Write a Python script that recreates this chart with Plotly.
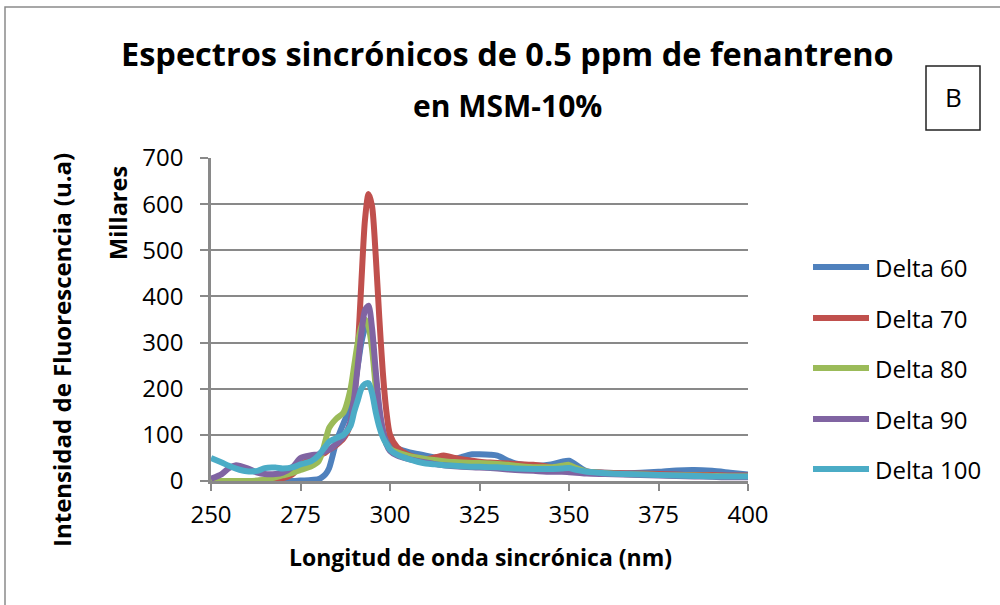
import plotly.graph_objects as go

# ---------------- data ----------------
wavelength = [250, 253, 255, 257, 260, 263, 265, 268, 270, 273, 275, 278, 280, 281, 282, 283, 285, 287,
              289, 290, 291, 292, 293, 294, 295, 296, 297, 298, 299, 300, 302, 305, 310, 313, 315,
              318, 320, 323, 325, 328, 330, 333, 335, 340, 345, 348, 350, 352, 355, 360, 365, 370,
              375, 380, 385, 390, 395, 400]

delta_60 = [0, 0, 0, 0, 0, 0, 0, 0, 0, 0, 1, 2, 4, 8, 15, 28, 85, 125,
            160, 200, 250, 300, 330, 340, 300, 220, 150, 110, 88, 76, 70, 63, 55, 50, 48,
            47, 52, 58, 58, 57, 55, 44, 38, 33, 36, 42, 44, 35, 21, 18, 17, 18,
            20, 23, 24, 22, 18, 14]

delta_70 = [0, 0, 0, 0, 0, 0, 2, 4, 6, 16, 35, 48, 54, 58, 62, 68, 78, 92,
            125, 180, 285, 430, 565, 622, 595, 490, 355, 235, 150, 100, 73, 57, 47, 52, 55,
            50, 47, 44, 42, 40, 39, 38, 37, 35, 30, 27, 25, 22, 20, 18, 17, 16,
            15, 14, 13, 13, 12, 12]

delta_80 = [0, 0, 0, 0, 0, 1, 3, 8, 12, 18, 24, 32, 42, 60, 88, 115, 135, 148,
            200, 250, 300, 335, 350, 335, 285, 205, 140, 100, 80, 70, 62, 55, 48, 45, 43,
            41, 40, 39, 39, 38, 37, 35, 33, 30, 30, 33, 35, 28, 20, 17, 15, 14,
            13, 12, 12, 11, 10, 10]

delta_90 = [5, 15, 28, 34, 28, 18, 15, 15, 18, 32, 50, 56, 58, 62, 65, 68, 80, 95,
            130, 180, 250, 320, 370, 380, 330, 240, 160, 110, 80, 65, 55, 48, 40, 36, 34,
            32, 31, 30, 29, 28, 27, 25, 24, 22, 20, 20, 19, 18, 16, 15, 14, 13,
            12, 11, 10, 9, 8, 8]

delta_100 = [50, 40, 33, 27, 21, 22, 28, 29, 27, 30, 36, 43, 55, 65, 75, 85, 93, 100,
             120, 150, 175, 200, 210, 212, 190, 150, 118, 95, 80, 68, 57, 48, 38, 36, 34,
             33, 32, 31, 31, 30, 30, 28, 27, 26, 26, 27, 28, 24, 20, 17, 15, 14,
             13, 12, 11, 10, 10, 10]

series_names = ["Delta 60", "Delta 70", "Delta 80", "Delta 90", "Delta 100"]
series_values = [delta_60, delta_70, delta_80, delta_90, delta_100]
series_colors = ["#4F81BD", "#C0504D", "#9BBB59", "#8064A2", "#4BACC6"]

x_ticks = [250, 275, 300, 325, 350, 375, 400]
y_ticks = [0, 100, 200, 300, 400, 500, 600, 700]

title_line1 = "Espectros sincrónicos de 0.5 ppm de fenantreno"
title_line2 = "en MSM-10%"
x_title = "Longitud de onda sincrónica (nm)"
y_title = "Intensidad de Fluorescencia (u.a)"
y_units = "Millares"
panel_label = "B"

# ---------------- geometry ----------------
W, H = 1000, 605
L, R, T, B = 211, 748, 158, 481


def px(xp):
    return (xp - L) / (R - L)


def py(yp):
    return (B - yp) / (B - T)


FONT = "Open Sans"
GRAY = "#898989"

fig = go.Figure()
for name, vals, col in zip(series_names, series_values, series_colors):
    fig.add_trace(go.Scatter(
        x=wavelength, y=vals, name=name, mode="lines",
        line=dict(color=col, width=6, shape="spline", smoothing=0.7),
        showlegend=False,
    ))

shapes = []
annotations = []

# outer chart border (left & top visible)
shapes.append(dict(type="rect", xref="paper", yref="paper",
                   x0=px(5), x1=px(1010), y0=py(615), y1=py(7),
                   line=dict(color="#8a8a8a", width=1.5), layer="below"))

# panel label box
shapes.append(dict(type="rect", xref="paper", yref="paper",
                   x0=px(926), x1=px(980), y0=py(130), y1=py(66),
                   line=dict(color="#222222", width=1.5)))
annotations.append(dict(text=panel_label, xref="paper", yref="paper",
                        x=px(953), y=py(97), showarrow=False,
                        xanchor="center", yanchor="middle",
                        font=dict(family=FONT, size=26, color="#000000")))

# titles
annotations.append(dict(text="<b>%s</b>" % title_line1, xref="paper", yref="paper",
                        x=px(507), y=py(53), showarrow=False,
                        xanchor="center", yanchor="middle",
                        font=dict(family=FONT, size=32.5, color="#000000")))
annotations.append(dict(text="<b>%s</b>" % title_line2, xref="paper", yref="paper",
                        x=px(507), y=py(105), showarrow=False,
                        xanchor="center", yanchor="middle",
                        font=dict(family=FONT, size=30, color="#000000")))

# axis titles
annotations.append(dict(text="<b>%s</b>" % x_title, xref="paper", yref="paper",
                        x=px(480), y=py(557), showarrow=False,
                        xanchor="center", yanchor="middle",
                        font=dict(family=FONT, size=23, color="#000000")))
annotations.append(dict(text="<b>%s</b>" % y_title, xref="paper", yref="paper",
                        x=px(61), y=py(350), showarrow=False, textangle=-90,
                        xanchor="center", yanchor="middle",
                        font=dict(family=FONT, size=24, color="#000000")))
annotations.append(dict(text="<b>%s</b>" % y_units, xref="paper", yref="paper",
                        x=px(118), y=py(213), showarrow=False, textangle=-90,
                        xanchor="center", yanchor="middle",
                        font=dict(family=FONT, size=23.5, color="#000000")))

# custom legend
leg_y = [267, 318, 368, 419, 469]
for name, col, yy in zip(series_names, series_colors, leg_y):
    shapes.append(dict(type="line", xref="paper", yref="paper",
                       x0=px(813), x1=px(869), y0=py(yy), y1=py(yy),
                       line=dict(color=col, width=6)))
    annotations.append(dict(text=name, xref="paper", yref="paper",
                            x=px(873), y=py(yy), showarrow=False,
                            xanchor="left", yanchor="middle",
                            font=dict(family=FONT, size=24, color="#000000")))

fig.update_layout(
    width=W, height=H, autosize=False,
    margin=dict(l=L, r=W - R, t=T, b=H - B, pad=0),
    paper_bgcolor="white", plot_bgcolor="white",
    font=dict(family=FONT, size=24, color="#000000"),
    shapes=shapes, annotations=annotations,
    xaxis=dict(range=[250, 400], tickvals=x_ticks, ticks="outside", ticklen=7,
               tickwidth=2, tickcolor=GRAY, showline=True, linecolor=GRAY, linewidth=2.5,
               showgrid=False, zeroline=False, tickfont=dict(family=FONT, size=24),
               ticklabelstandoff=3),
    yaxis=dict(range=[0, 700], tickvals=y_ticks, ticks="outside", ticklen=8,
               tickwidth=2, tickcolor=GRAY, showline=True, linecolor=GRAY, linewidth=2.5,
               showgrid=True, gridcolor=GRAY, gridwidth=1.8, zeroline=False,
               tickfont=dict(family=FONT, size=24), ticklabelstandoff=12),
)

fig.write_html("out.html")
